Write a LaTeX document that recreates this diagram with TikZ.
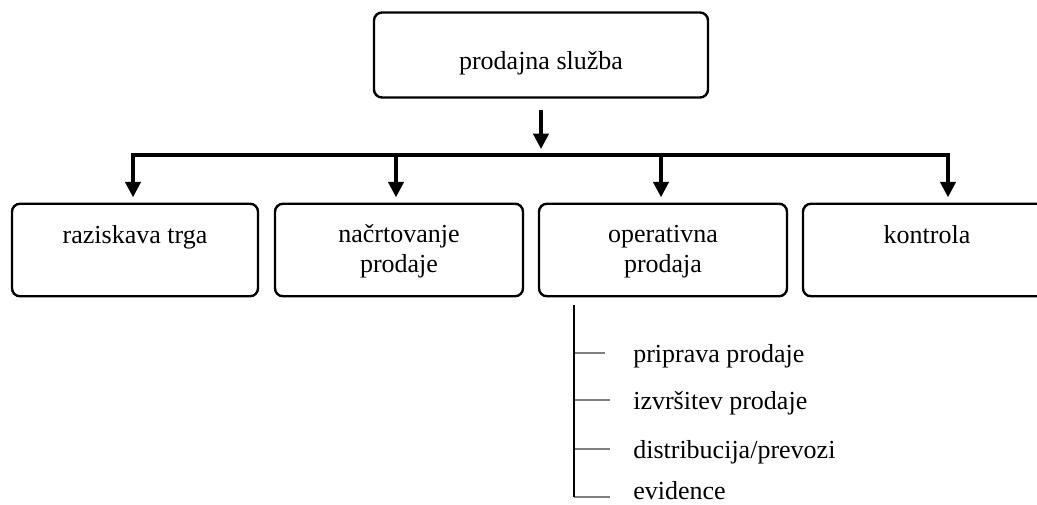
\documentclass[tikz,border=0pt]{standalone}
\usepackage{fontspec}
\setmainfont{Liberation Serif}
\usetikzlibrary{arrows.meta}
\begin{document}
\begin{tikzpicture}[x=0.75pt,y=-0.75pt,
  box/.style={draw,line width=1.8pt,rounded corners=6pt,inner sep=0pt},
  lbl/.style={font=\fontsize{19.5pt}{22pt}\selectfont,align=center,anchor=base,inner sep=0pt},
  flow/.style={line width=2.4pt,-{Triangle[width=11.5pt,length=11.5pt]}},
  bus/.style={line width=2.4pt,line join=miter,{Triangle[width=11.5pt,length=11.5pt]}-{Triangle[width=11.5pt,length=11.5pt]}},
  trunk/.style={line width=2pt},
  branch/.style={draw=black!50,line width=1.1pt},
  item/.style={font=\fontsize{19.5pt}{22pt}\selectfont,anchor=base west,inner sep=0pt}]
\useasboundingbox (0,0) rectangle (1037,504);

% head unit
\node[box,minimum width=250.5pt,minimum height=63.75pt] (top) at (541,55) {};
\node[lbl] (topt) at (541,69) {prodajna služba};

% departments
\node[box,minimum width=184.5pt,minimum height=69.4pt] (b1) at (135,250) {};
\node[box,minimum width=186pt,minimum height=69.4pt] (b2) at (399,250) {};
\node[box,minimum width=186pt,minimum height=69.4pt] (b3) at (663,250) {};
\node[box,minimum width=186pt,minimum height=69.4pt] (b4) at (927,250) {};

% single-line labels sit on the first baseline, two-line ones on the second
\node[lbl] (t1) at (135,243) {raziskava trga};
\node[lbl] (t2) at (399,272) {načrtovanje\\prodaje};
\node[lbl] (t3) at (663,272) {operativna\\prodaja};
\node[lbl] (t4) at (927,243) {kontrola};

% distribution bus
\coordinate (join) at (541,155);
\coordinate (j1) at (133,155);
\coordinate (j2) at (396,155);
\coordinate (j3) at (661,155);
\coordinate (j4) at (948,155);
\coordinate (e1) at (j1 |- b1.north);
\coordinate (e2) at (j2 |- b2.north);
\coordinate (e3) at (j3 |- b3.north);
\coordinate (e4) at (j4 |- b4.north);

\draw[flow] ([yshift=-8.25pt]top.south) -- ([yshift=4.5pt]join);
\draw[bus] ([yshift=4pt]e1) -- (j1) -- (j4) -- ([yshift=4pt]e4);
\draw[flow] (j2) -- ([yshift=4pt]e2);
\draw[flow] (j3) -- ([yshift=4pt]e3);

% tasks of operative sales
\coordinate (lt) at (574,305);
\coordinate (lb) at (574,497);
\node[item] (i1) at (633,362) {priprava prodaje};
\node[item] (i2) at (633,409) {izvršitev prodaje};
\node[item] (i3) at (633,458) {distribucija/prevozi};
\node[item] (i4) at (633,499) {evidence};

\coordinate (k1) at (574,353);
\coordinate (k2) at (574,400);
\coordinate (k3) at (574,449);
\draw[branch] (k1) -- (605,353);
\draw[branch] (k2) -- (610,400);
\draw[branch] (k3) -- (610,449);
\draw[branch] (lb) -- (610,497);
\draw[trunk] (lt) -- (lb);
\end{tikzpicture}
\end{document}
